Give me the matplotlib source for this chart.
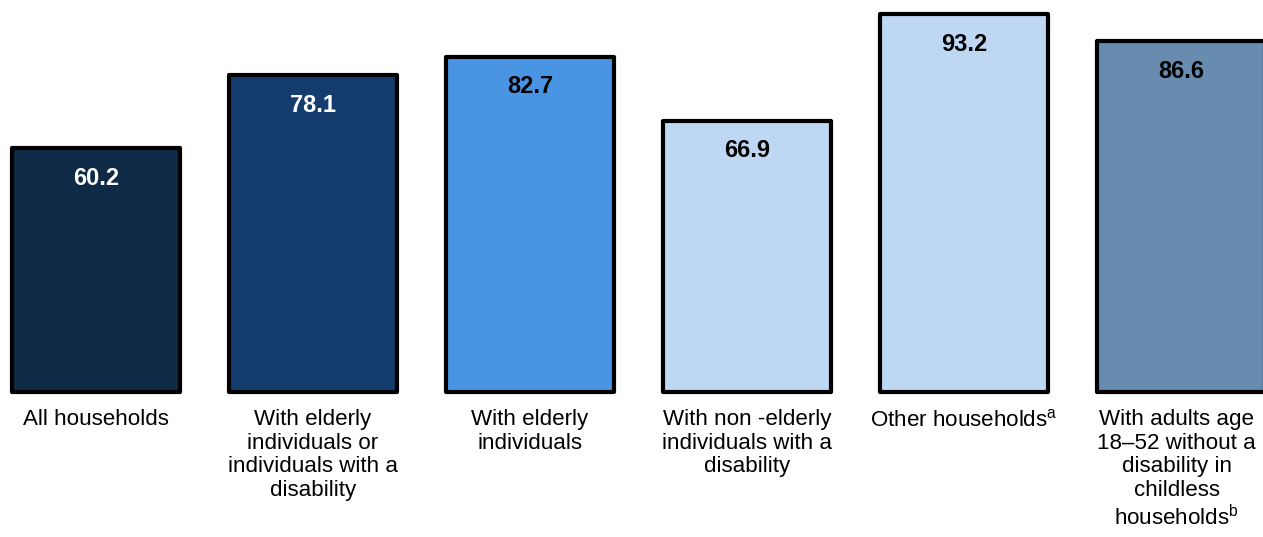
import matplotlib.pyplot as plt

plt.rcParams['font.family'] = ['Liberation Sans', 'DejaVu Sans']
plt.rcParams['mathtext.fontset'] = 'custom'
plt.rcParams['mathtext.rm'] = 'Liberation Sans'

categories = [
    'All households',
    'With elderly\nindividuals or\nindividuals with a\ndisability',
    'With elderly\nindividuals',
    'With non -elderly\nindividuals with a\ndisability',
    'Other households$^{\\mathrm{a}}$',
    'With adults age\n18\u201352 without a\ndisability in\nchildless\nhouseholds$^{\\mathrm{b}}$',
]
values = [60.2, 78.1, 82.7, 66.9, 93.2, 86.6]
colors = ['#0e2a47', '#143d6d', '#4a95e3', '#bed8f4', '#bed8f4', '#678caf']
label_colors = ['white', 'white', 'black', 'black', 'black', 'black']


def main():
    fig = plt.figure(figsize=(12.63, 5.37), dpi=100)
    ax = fig.add_axes([0, 0, 1, 1])

    x = list(range(len(values)))
    bars = ax.bar(x, values, width=0.774, color=colors, edgecolor='black',
                  linewidth=3.0, joinstyle='round')

    # value labels just inside the top of each bar
    for rect, v, c in zip(bars, values, label_colors):
        ax.text(rect.get_x() + rect.get_width() / 2, v - 4.6, f'{v:.1f}',
                ha='center', va='top', fontsize=17, fontweight='bold', color=c)

    # category labels under the bars; the last one is nudged left so it stays in frame
    for i, lab in enumerate(categories):
        xpos = i - 0.02 if i == len(categories) - 1 else i
        ax.text(xpos, -4.2, lab, ha='center', va='top', fontsize=16.1,
                multialignment='center', linespacing=1.17)

    ax.set_xlim(-0.442, 5.378)
    ax.set_ylim(-35.8, 96.7)
    ax.axis('off')

    fig.savefig('out.png', dpi=100)


if __name__ == '__main__':
    main()
